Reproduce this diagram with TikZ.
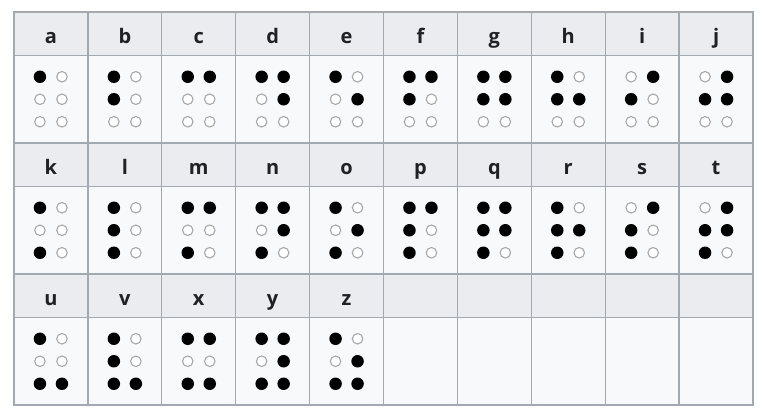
\documentclass[tikz,border=0pt]{standalone}
\usepackage{fontspec}
\usepackage{xstring}
\setmainfont{Open Sans}
\definecolor{hdrfill}{HTML}{EAECF0}
\definecolor{bodyfill}{HTML}{F8F9FA}
\definecolor{gridline}{HTML}{A2A9B1}
\definecolor{txt}{HTML}{202122}
\definecolor{hollowc}{HTML}{A8A8A8}
\tikzset{
  hdrcell/.style={draw=gridline, line width=1.3pt, fill=hdrfill, minimum width=73.9pt, minimum height=43.5pt, inner sep=0pt, text=txt, text height=19pt, text depth=0pt, font=\fontsize{20}{24}\selectfont\bfseries},
  bodycell/.style={draw=gridline, line width=1.3pt, fill=bodyfill, minimum width=73.9pt, minimum height=87.5pt, inner sep=0pt},
  full/.style={circle, fill=black, minimum size=12.5pt, inner sep=0pt},
  hollow/.style={circle, draw=hollowc, line width=1.1pt, fill=white, minimum size=10.5pt, inner sep=0pt}
}
\begin{document}
\begin{tikzpicture}[x=1pt,y=-1pt]
\useasboundingbox (0,0) rectangle (762,416);
\fill[white] (0,0) rectangle (762,416);
% empty cells in last row
\foreach \c in {5,...,9}{
  \pgfmathsetmacro{\cx}{14+73.9*(\c+0.5)}
  \node[hdrcell] (h2-\c) at (\cx, {274+21.75}) {};
  \node[bodycell] (b2-\c) at (\cx, {317.5+43.75}) {};
}
\foreach \L/\P [count=\i from 0] in {a/1,b/12,c/14,d/145,e/15,f/124,g/1245,h/125,i/24,j/245,
  k/13,l/123,m/134,n/1345,o/135,p/1234,q/12345,r/1235,s/234,t/2345,
  u/136,v/1236,x/1346,y/13456,z/1356}{
  \pgfmathtruncatemacro{\r}{int(\i/10)}
  \pgfmathtruncatemacro{\c}{mod(\i,10)}
  \pgfmathsetmacro{\cx}{14+73.9*(\c+0.5)}
  \pgfmathsetmacro{\hy}{12+131*\r+21.75}
  \pgfmathsetmacro{\by}{12+131*\r+43.5+43.75}
  \node[hdrcell] (h-\L) at (\cx,\hy) {\L};
  \node[bodycell] (b-\L) at (\cx,\by) {};
  \foreach \d in {1,...,6}{
    \pgfmathsetmacro{\dx}{\d<4 ? -11 : 11}
    \pgfmathsetmacro{\dy}{\d<4 ? (\d-2)*22.5 : (\d-5)*22.5}
    \IfSubStr{\P}{\d}{\def\st{full}}{\def\st{hollow}}
    \node[\st] (\L-\d) at ([shift={(\dx,\dy)}]b-\L.center) {};
  }
}
\end{tikzpicture}
\end{document}
